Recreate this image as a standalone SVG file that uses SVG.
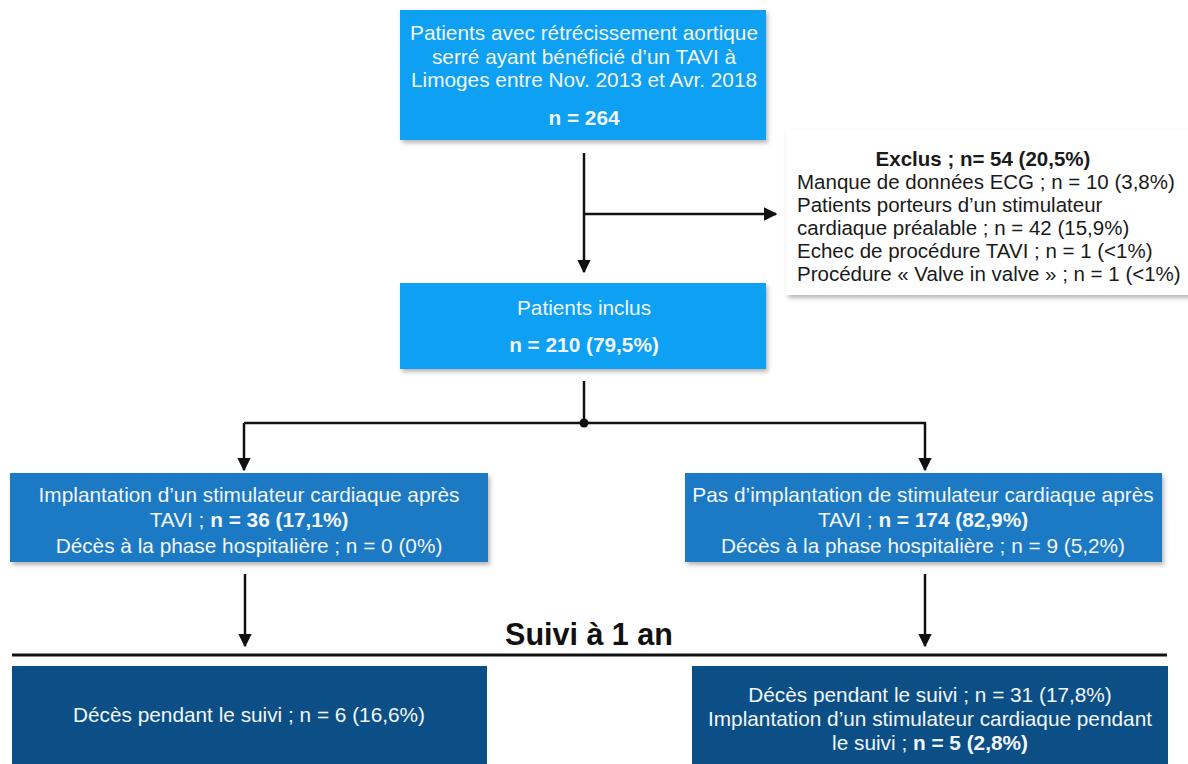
<svg xmlns="http://www.w3.org/2000/svg" width="1188" height="764" viewBox="0 0 1188 764">
<defs>
<style>
.t{font-family:"Liberation Sans",Arial,sans-serif;font-size:20.8px;fill:#f2f6fa;text-anchor:middle}
.k{font-family:"Liberation Sans",Arial,sans-serif;font-size:20.5px;fill:#1a1a1a}
.b{font-weight:bold}
.ln{stroke:#111;stroke-width:2.5;fill:none}
</style>
<marker id="ah" viewBox="0 0 10 10" refX="9" refY="5" markerWidth="5.5" markerHeight="5.5" orient="auto" markerUnits="strokeWidth">
<path d="M0,0 L10,5 L0,10 z" fill="#111"/>
</marker>
<filter id="ds" x="-5%" y="-5%" width="110%" height="120%">
<feDropShadow dx="2" dy="3" stdDeviation="2" flood-color="#888" flood-opacity="0.6"/>
</filter>
</defs>
<rect width="1188" height="764" fill="#fff"/>

<g id="connectors">
<line class="ln" x1="584" y1="153" x2="584" y2="272" marker-end="url(#ah)"/>
<line class="ln" x1="584" y1="214" x2="776" y2="214" marker-end="url(#ah)"/>
<line class="ln" x1="584" y1="381" x2="584" y2="423"/>
<circle cx="584" cy="423" r="4.5" fill="#111"/>
<polyline class="ln" points="244,423 925,423 925,470" marker-end="url(#ah)"/>
<line class="ln" x1="244" y1="423" x2="244" y2="470" marker-end="url(#ah)"/>
<line class="ln" x1="245" y1="574" x2="245" y2="646" marker-end="url(#ah)"/>
<line class="ln" x1="925" y1="574" x2="925" y2="646" marker-end="url(#ah)"/>
<line x1="12" y1="655" x2="1167" y2="655" stroke="#111" stroke-width="3"/>
</g>

<g id="n-top">
<rect x="400" y="10" width="366" height="130" fill="#0aa0f3" filter="url(#ds)"/>
<text class="t" x="584" y="40">Patients avec rétrécissement aortique</text>
<text class="t" x="584" y="64">serré ayant bénéficié d’un TAVI à</text>
<text class="t" x="584" y="87">Limoges entre Nov. 2013 et Avr. 2018</text>
<text class="t b" x="584" y="125">n = 264</text>
</g>

<g id="n-exclus">
<rect x="786" y="130" width="410" height="165" fill="#fff" filter="url(#ds)"/>
<text class="k b" x="983" y="166" text-anchor="middle">Exclus ; n= 54 (20,5%)</text>
<text class="k" x="797" y="189">Manque de données ECG ; n = 10 (3,8%)</text>
<text class="k" x="797" y="212">Patients porteurs d’un stimulateur</text>
<text class="k" x="797" y="235">cardiaque préalable ; n = 42 (15,9%)</text>
<text class="k" x="797" y="258">Echec de procédure TAVI ; n = 1 (&lt;1%)</text>
<text class="k" x="797" y="281">Procédure « Valve in valve » ; n = 1 (&lt;1%)</text>
</g>

<g id="n-inclus">
<rect x="400" y="283" width="366" height="86" fill="#0aa0f3" filter="url(#ds)"/>
<text class="t" x="584" y="315">Patients inclus</text>
<text class="t b" x="584" y="352">n = 210 (79,5%)</text>
</g>

<g id="n-pm">
<rect x="10" y="473" width="478" height="89" fill="#1a79c4" filter="url(#ds)"/>
<text class="t" x="249" y="502">Implantation d’un stimulateur cardiaque après</text>
<text class="t" x="249" y="527">TAVI ; <tspan class="b">n = 36 (17,1%)</tspan></text>
<text class="t" x="249" y="553">Décès à la phase hospitalière ; n = 0 (0%)</text>
</g>

<g id="n-nopm">
<rect x="685" y="473" width="477" height="89" fill="#1a79c4" filter="url(#ds)"/>
<text class="t" x="923" y="502">Pas d’implantation de stimulateur cardiaque après</text>
<text class="t" x="923" y="527">TAVI ; <tspan class="b">n = 174 (82,9%)</tspan></text>
<text class="t" x="923" y="553">Décès à la phase hospitalière ; n = 9 (5,2%)</text>
</g>

<g id="suivi">
<text x="589" y="645" font-family="'Liberation Sans',Arial,sans-serif" font-size="30.5" font-weight="bold" fill="#111" text-anchor="middle">Suivi à 1 an</text>
</g>

<g id="n-fu-left">
<rect x="12" y="666" width="475" height="100" fill="#0c4f86"/>
<text class="t" x="249" y="722">Décès pendant le suivi ; n = 6 (16,6%)</text>
</g>

<g id="n-fu-right">
<rect x="692" y="666" width="476" height="100" fill="#0c4f86"/>
<text class="t" x="930" y="702">Décès pendant le suivi ; n = 31 (17,8%)</text>
<text class="t" x="930" y="726">Implantation d’un stimulateur cardiaque pendant</text>
<text class="t" x="930" y="750">le suivi ; <tspan class="b">n = 5 (2,8%)</tspan></text>
</g>
</svg>
